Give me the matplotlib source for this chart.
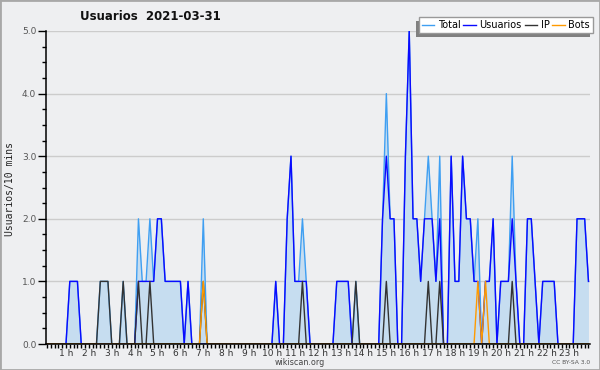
import numpy as np
import matplotlib
matplotlib.use("Agg")
import matplotlib.pyplot as plt
from matplotlib.patches import Rectangle
from matplotlib.lines import Line2D
from matplotlib.transforms import IdentityTransform

# ---- data: 144 ten-minute slots (slot k = 00:00 + k*10 min) ----
total = [
    0, 0, 0, 0, 0, 0, 0, 1, 1, 1, 0, 0,   0, 0, 0, 1, 1, 1, 0, 0, 0, 1, 0, 0,
    0, 2, 1, 1, 2, 1, 2, 2, 1, 1, 1, 1,   1, 0, 1, 0, 0, 0, 2, 0, 0, 0, 0, 0,
    0, 0, 0, 0, 0, 0, 0, 0, 0, 0, 0, 0,   0, 1, 0, 0, 2, 3, 1, 1, 2, 1, 0, 0,
    0, 0, 0, 0, 0, 1, 1, 1, 1, 0, 1, 0,   0, 0, 0, 0, 0, 2, 4, 2, 2, 0, 0, 3,
    5, 2, 2, 1, 2, 3, 2, 1, 3, 0, 0, 3,   1, 1, 3, 2, 2, 1, 2, 0, 1, 1, 2, 0,
    1, 1, 1, 3, 1, 0, 0, 2, 2, 1, 0, 1,   1, 1, 1, 0, 0, 0, 0, 0, 2, 2, 2, 1,
]
usuarios = [
    0, 0, 0, 0, 0, 0, 0, 1, 1, 1, 0, 0,   0, 0, 0, 0, 0, 0, 0, 0, 0, 0, 0, 0,
    0, 1, 1, 1, 1, 1, 2, 2, 1, 1, 1, 1,   1, 0, 1, 0, 0, 0, 0, 0, 0, 0, 0, 0,
    0, 0, 0, 0, 0, 0, 0, 0, 0, 0, 0, 0,   0, 1, 0, 0, 2, 3, 1, 1, 1, 1, 0, 0,
    0, 0, 0, 0, 0, 1, 1, 1, 1, 0, 0, 0,   0, 0, 0, 0, 0, 2, 3, 2, 2, 0, 0, 3,
    5, 2, 2, 1, 2, 2, 2, 1, 2, 0, 0, 3,   1, 1, 3, 2, 2, 1, 1, 0, 1, 1, 2, 0,
    1, 1, 1, 2, 1, 0, 0, 2, 2, 1, 0, 1,   1, 1, 1, 0, 0, 0, 0, 0, 2, 2, 2, 1,
]
ip = [
    0, 0, 0, 0, 0, 0, 0, 0, 0, 0, 0, 0,   0, 0, 0, 1, 1, 1, 0, 0, 0, 1, 0, 0,
    0, 1, 0, 0, 1, 0, 0, 0, 0, 0, 0, 0,   0, 0, 0, 0, 0, 0, 1, 0, 0, 0, 0, 0,
    0, 0, 0, 0, 0, 0, 0, 0, 0, 0, 0, 0,   0, 0, 0, 0, 0, 0, 0, 0, 1, 0, 0, 0,
    0, 0, 0, 0, 0, 0, 0, 0, 0, 0, 1, 0,   0, 0, 0, 0, 0, 0, 1, 0, 0, 0, 0, 0,
    0, 0, 0, 0, 0, 1, 0, 0, 1, 0, 0, 0,   0, 0, 0, 0, 0, 0, 0, 0, 0, 0, 0, 0,
    0, 0, 0, 1, 0, 0, 0, 0, 0, 0, 0, 0,   0, 0, 0, 0, 0, 0, 0, 0, 0, 0, 0, 0,
]
bots = [
    0, 0, 0, 0, 0, 0, 0, 0, 0, 0, 0, 0,   0, 0, 0, 0, 0, 0, 0, 0, 0, 0, 0, 0,
    0, 0, 0, 0, 0, 0, 0, 0, 0, 0, 0, 0,   0, 0, 0, 0, 0, 0, 1, 0, 0, 0, 0, 0,
    0, 0, 0, 0, 0, 0, 0, 0, 0, 0, 0, 0,   0, 0, 0, 0, 0, 0, 0, 0, 0, 0, 0, 0,
    0, 0, 0, 0, 0, 0, 0, 0, 0, 0, 0, 0,   0, 0, 0, 0, 0, 0, 0, 0, 0, 0, 0, 0,
    0, 0, 0, 0, 0, 0, 0, 0, 0, 0, 0, 0,   0, 0, 0, 0, 0, 0, 1, 0, 1, 0, 0, 0,
    0, 0, 0, 0, 0, 0, 0, 0, 0, 0, 0, 0,   0, 0, 0, 0, 0, 0, 0, 0, 0, 0, 0, 0,
]
series_names = ["Total", "Usuarios", "IP", "Bots"]
hour_values = list(range(1, 24))
hour_labels = [f"{h} h" for h in hour_values]
y_values = [0, 1, 2, 3, 4, 5]
y_labels = ["0.0", "1.0", "2.0", "3.0", "4.0", "5.0"]
title = "Usuarios  2021-03-31"
ylabel = "Usuarios/10 mins"

# ---- styling ----
BG = "#eeeff1"
C_TOTAL = "#3f9ff2"
C_USU = "#0a0aff"
C_IP = "#333333"
C_BOTS = "#ff9a00"
C_FILL = "#c6ddf0"

W, H = 600, 370
fig = plt.figure(figsize=(W / 100, H / 100), dpi=100, facecolor=BG)
ax = fig.add_axes([46 / W, 26 / H, 544 / W, 313 / H])
ax.set_facecolor(BG)

x = np.arange(len(total))
ax.fill_between(x, total, 0, color=C_FILL, lw=0, zorder=1)
ax.plot(x, total, color=C_TOTAL, lw=1.0, zorder=2)
ax.plot(x, usuarios, color=C_USU, lw=1.0, zorder=2.1)
ax.plot(x, ip, color=C_IP, lw=1.0, zorder=2.2)
ax.plot(x, bots, color=C_BOTS, lw=1.0, zorder=2.3)

ax.set_xlim(0.76, 143.4)
ax.set_ylim(0, 5)

ax.set_xticks([6 * h for h in hour_values])
ax.set_xticklabels(hour_labels)
ax.set_xticks(np.arange(1, 144), minor=True)
ax.set_yticks(y_values)
ax.set_yticklabels(y_labels)
ax.set_yticks(np.arange(0, 5.01, 0.25), minor=True)

ax.tick_params(axis="x", which="both", direction="out", length=3, width=1,
               color="black", labelsize=6.5, pad=0.5, labelcolor="#333333")
ax.tick_params(axis="y", which="major", direction="out", length=6, width=1,
               color="black", labelsize=6.5, pad=1, labelcolor="#555555")
ax.tick_params(axis="y", which="minor", direction="out", length=3, width=1,
               color="black")

for s in ["top", "right"]:
    ax.spines[s].set_visible(False)
for s in ["left", "bottom"]:
    ax.spines[s].set_color("black")
    ax.spines[s].set_linewidth(1.1)
    ax.spines[s].set_zorder(5)

ax.yaxis.grid(True, which="major", color="#cccccc", lw=1)
ax.set_axisbelow(True)

fig.text(150 / W, 1 - 17 / H, title, ha="center", va="center",
         fontsize=8.5, fontweight="bold", color="#111111")
fig.text(10 / W, 1 - 189 / H, ylabel, rotation=90, ha="center", va="center",
         fontsize=7, family="DejaVu Sans Mono", color="#222222")
fig.text(300 / W, 1 - 362.5 / H, "wikiscan.org", ha="center", va="center",
         fontsize=5.8, color="#444444")
fig.text(590 / W, 1 - 363 / H, "CC BY-SA 3.0", ha="right", va="center",
         fontsize=4.3, color="#555555")

handles = [Line2D([], [], color=c, lw=1.0) for c in (C_TOTAL, C_USU, C_IP, C_BOTS)]
leg = fig.legend(handles, series_names, loc="upper right",
                 bbox_to_anchor=(593 / W, 1 - 17 / H), bbox_transform=fig.transFigure,
                 ncol=4, fontsize=7, frameon=True, fancybox=False,
                 borderpad=0.3, handlelength=1.3, handletextpad=0.35,
                 columnspacing=0.3, borderaxespad=0)
leg.get_frame().set_facecolor("white")
leg.get_frame().set_edgecolor("#999999")
leg.get_frame().set_linewidth(1.0)
leg.get_frame().set_alpha(1)
leg.set_zorder(10)

fig.canvas.draw()
bb = leg.get_window_extent()
shadow = Rectangle((bb.x0 - 3, bb.y0 - 4), bb.width, bb.height,
                   transform=IdentityTransform(), facecolor="#808080",
                   edgecolor="none", zorder=9)
fig.add_artist(shadow)

fig.add_artist(Rectangle((0, 0), 1, 1, transform=fig.transFigure, fill=False,
                         edgecolor="#a8a8a8", lw=2, zorder=20))

fig.savefig("out.png", dpi=100, facecolor=BG)
